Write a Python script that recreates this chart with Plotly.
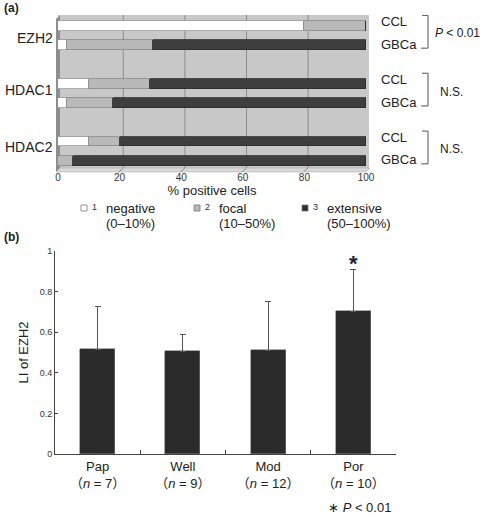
import plotly.graph_objects as go

# ---------- data: panel (a) ----------
markers = ["EZH2", "HDAC1", "HDAC2"]
tissues = ["CCL", "GBCa"]
negative = [80, 3, 10, 3, 10, 0]
focal = [20, 28, 20, 15, 10, 5]
extensive = [0, 69, 70, 82, 80, 95]
stats_a = ["<i>P</i> < 0.01", "N.S.", "N.S."]
xticks_a = [0, 20, 40, 60, 80, 100]

# ---------- data: panel (b) ----------
grades = ["Pap", "Well", "Mod", "Por"]
n_cases = [7, 9, 12, 10]
li_mean = [0.516, 0.507, 0.511, 0.704]
li_sd = [0.213, 0.084, 0.241, 0.207]
yticks_b = [0, 0.2, 0.4, 0.6, 0.8, 1]

W, H = 480, 515
FONT = "Liberation Sans, Arial, Noto Sans CJK JP, sans-serif"
def px(x): return x / W
def py(y): return 1 - y / H

# y positions of bars in panel (a): group step 3, bar step 1
ypos = []
for g in range(len(markers)):
    for s in range(len(tissues)):
        ypos.append(g * 3 + s)

fig = go.Figure()
bar_w = 0.5
for vals, col, lc in [(negative, "#ffffff", "#9a9a9a"),
                      (focal, "#b9b9b9", "#8a8a8a"),
                      (extensive, "#3e3e3e", "#2a2a2a")]:
    fig.add_trace(go.Bar(x=vals, y=ypos, orientation="h", width=bar_w,
                         marker=dict(color=col, line=dict(color=lc, width=0.8)),
                         xaxis="x", yaxis="y", showlegend=False, hoverinfo="skip"))

# panel (b) bars
fig.add_trace(go.Bar(x=grades, y=li_mean, width=0.41,
                     marker=dict(color="#2b2b2b", line=dict(color="#777", width=0.6)),
                     error_y=dict(type="data", array=li_sd, arrayminus=[0]*len(li_sd),
                                  symmetric=False, color="#555", thickness=1, width=3),
                     xaxis="x2", yaxis="y2", showlegend=False, hoverinfo="skip"))

ya_top = -0.57
ya_bot = 7.47
fig.update_layout(
    width=W, height=H, margin=dict(l=0, r=0, t=0, b=0),
    paper_bgcolor="white", plot_bgcolor="white",
    barmode="stack", bargap=0,
    font=dict(family=FONT, color="#222"),
    xaxis=dict(domain=[px(58), px(366)], range=[0, 100], tickvals=xticks_a,
               showgrid=False, zeroline=False, showline=False, automargin=False,
               tickfont=dict(size=10, color="#333"), ticks="", ticklen=0,
               title=dict(text="% positive cells", font=dict(size=13), standoff=3),
               anchor="y"),
    yaxis=dict(domain=[py(170), py(15)], range=[ya_bot, ya_top], showticklabels=False,
               automargin=False,
               showgrid=False, zeroline=False, showline=False, anchor="x"),
    xaxis2=dict(domain=[px(55), px(396)], type="category", anchor="y2",
                tickvals=grades, automargin=False,
                ticktext=[f"{g}<br>（<i>n</i> = {n}）" for g, n in zip(grades, n_cases)],
                showline=True, linecolor="#444", linewidth=1,
                ticks="inside", tickson="boundaries", ticklen=4, tickcolor="#444",
                tickfont=dict(size=13, color="#222"), range=[-0.5, 3.5]),
    yaxis2=dict(domain=[py(454), py(251)], range=[0, 1], anchor="x2",
                tickvals=yticks_b, ticktext=[f"{v:g}" for v in yticks_b], automargin=False,
                showline=True, linecolor="#444", linewidth=1,
                ticks="inside", ticklen=3, tickcolor="#444",
                tickfont=dict(size=9, color="#333"), showgrid=False, zeroline=False,
                title=dict(text="LI of EZH2", font=dict(size=13), standoff=8)),
)

shapes = []
# plot background (back wall) and 3D-ish side wall / floor
shapes.append(dict(type="rect", xref="paper", yref="paper", x0=px(58), x1=px(369),
                   y0=py(170), y1=py(15), fillcolor="#c8c8c8", line=dict(width=0), layer="below"))
shapes.append(dict(type="path", xref="paper", yref="paper",
                   path=f"M {px(56)} {py(172)} L {px(56)} {py(19)} L {px(60)} {py(15)} L {px(60)} {py(168)} Z",
                   fillcolor="#8e8e8e", line=dict(width=0), layer="below"))
shapes.append(dict(type="path", xref="paper", yref="paper",
                   path=f"M {px(56)} {py(172)} L {px(366)} {py(172)} L {px(370)} {py(168)} L {px(60)} {py(168)} Z",
                   fillcolor="#d8d8d8", line=dict(color="#aaa", width=0.5), layer="below"))
for v in xticks_a[1:-1]:
    shapes.append(dict(type="line", xref="x", yref="paper", x0=v + 1.2, x1=v + 1.2,
                       y0=py(168), y1=py(15), line=dict(color="#8c8c8c", width=1), layer="below"))
    shapes.append(dict(type="line", xref="x", yref="paper", x0=v - 0.3, x1=v + 1.2,
                       y0=py(172), y1=py(168), line=dict(color="#8c8c8c", width=1), layer="below"))

annotations = []
label_y = [38, 90, 147]
# marker labels and tissue labels
for g, m in enumerate(markers):
    annotations.append(dict(text=m, x=px(55), y=py(label_y[g]), xref="paper", yref="paper",
                            xanchor="right", yanchor="middle", showarrow=False,
                            font=dict(size=14)))
    for s, t in enumerate(tissues):
        annotations.append(dict(text=t, x=px(379), y=g * 3 + s, xref="paper", yref="y",
                                xanchor="left", yanchor="middle", showarrow=False,
                                font=dict(size=13), yshift=4 if s == 0 else 1))
    y0 = g * 3 - 0.55
    y1 = g * 3 + 1.15
    shapes.append(dict(type="path", xref="paper", yref="y",
                       path=f"M {px(422)} {y0} L {px(428)} {y0} L {px(428)} {y1} L {px(421)} {y1}",
                       line=dict(color="#555", width=1)))
    annotations.append(dict(text=stats_a[g], x=px(433) if g == 0 else px(438),
                            y=g * 3 + 0.35 if g == 0 else g * 3 + 0.4,
                            xref="paper", yref="y", xanchor="left", yanchor="middle",
                            showarrow=False, font=dict(size=12)))

# legend
legend_items = [("#ffffff", "1", "negative", "(0–10%)", 84),
                ("#b9b9b9", "2", "focal", "(10–50%)", 197),
                ("#2e2e2e", "3", "extensive", "(50–100%)", 305)]
for col, num, name, rng, x in legend_items:
    shapes.append(dict(type="rect", xref="paper", yref="paper",
                       x0=px(x - 3), x1=px(x + 3), y0=py(211), y1=py(205),
                       fillcolor=col, line=dict(color="#777", width=0.8)))
    annotations.append(dict(text=num, x=px(x + 6), y=py(207), xref="paper", yref="paper",
                            xanchor="left", yanchor="middle", showarrow=False,
                            font=dict(size=9, color="#333")))
    annotations.append(dict(text=name, x=px(x + 20), y=py(208), xref="paper", yref="paper",
                            xanchor="left", yanchor="middle", showarrow=False,
                            font=dict(size=13)))
    annotations.append(dict(text=rng, x=px(x + 20), y=py(223), xref="paper", yref="paper",
                            xanchor="left", yanchor="middle", showarrow=False,
                            font=dict(size=13)))

# panel labels
annotations.append(dict(text="<b>(a)</b>", x=px(2), y=py(8), xref="paper", yref="paper",
                        xanchor="left", yanchor="middle", showarrow=False, font=dict(size=12)))
annotations.append(dict(text="<b>(b)</b>", x=px(2), y=py(237), xref="paper", yref="paper",
                        xanchor="left", yanchor="middle", showarrow=False, font=dict(size=12)))

# significance in (b)
annotations.append(dict(text="<b>*</b>", x=grades[-1], y=li_mean[-1] + li_sd[-1], xref="x2", yref="y2",
                        xanchor="center", yanchor="bottom", showarrow=False,
                        font=dict(size=22), yshift=-9))
annotations.append(dict(text="∗ <i>P</i> < 0.01", x=px(326), y=py(507), xref="paper", yref="paper",
                        xanchor="left", yanchor="middle", showarrow=False, font=dict(size=13)))

fig.update_layout(shapes=shapes, annotations=annotations)
fig.write_html("out.html", config={"displayModeBar": False},
               post_script="document.body.style.margin='0';document.body.style.padding='0';")
